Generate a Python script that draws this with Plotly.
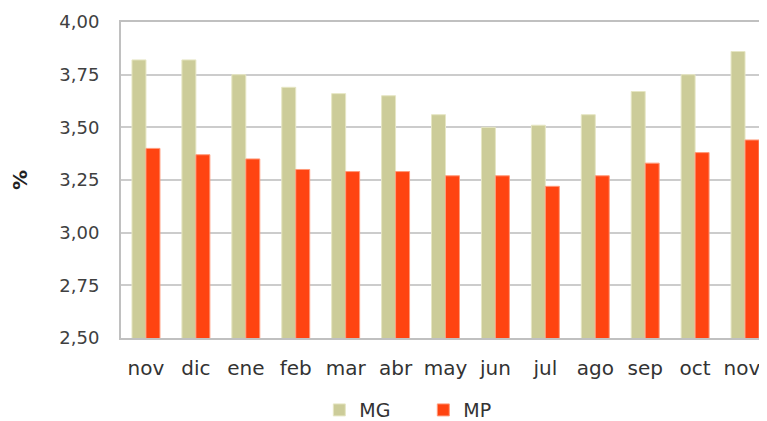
import plotly.graph_objects as go

months = ["nov", "dic", "ene", "feb", "mar", "abr", "may", "jun", "jul", "ago", "sep", "oct", "nov "]
mg = [3.82, 3.82, 3.75, 3.69, 3.66, 3.65, 3.56, 3.50, 3.51, 3.56, 3.67, 3.75, 3.86]
mp = [3.40, 3.37, 3.35, 3.30, 3.29, 3.29, 3.27, 3.27, 3.22, 3.27, 3.33, 3.38, 3.44]
yticks = [2.50, 2.75, 3.00, 3.25, 3.50, 3.75, 4.00]

FONT = "Century Gothic, DejaVu Sans, sans-serif"

fig = go.Figure()
fig.add_trace(go.Bar(x=months, y=mg, name="MG",
                     marker=dict(color="#CCCC99", line=dict(color="#E6E6C4", width=1))))
fig.add_trace(go.Bar(x=months, y=mp, name="MP",
                     marker=dict(color="#FF4411", line=dict(color="#FF9A7A", width=1))))

# page body has an 8px default margin, so the figure is sized to fill the rest
fig.update_layout(
    width=759, height=413,
    margin=dict(l=113, r=0, t=14, b=83, autoexpand=False),
    paper_bgcolor="white", plot_bgcolor="white",
    barmode="group", bargap=0.44, bargroupgap=0,
    separators=",.",
    font=dict(family=FONT, size=18, color="#333333"),
    showlegend=True,
    legend=dict(orientation="h", x=0.468, xanchor="center", y=-0.228, yanchor="middle",
                font=dict(size=19, color="#333333"), itemwidth=30, entrywidth=59,
                tracegroupgap=0),
    xaxis=dict(range=[-0.5, 12.44], showgrid=False, ticks="", showline=True,
               linecolor="#C0C0C0", linewidth=2, mirror=True,
               tickfont=dict(size=20, color="#333333"), ticklabelstandoff=11),
    yaxis=dict(range=[2.5, 4.0], tickvals=yticks, tickformat=".2f",
               showgrid=True, gridcolor="#CCCCCC", gridwidth=1.5,
               showline=True, linecolor="#C0C0C0", linewidth=2, mirror=True,
               ticks="", ticklabelstandoff=16,
               tickfont=dict(size=18, color="#404040"),
               title=dict(text="<b>%</b>", font=dict(size=20, color="#222222"), standoff=28)),
)

fig.write_html("out.html")
